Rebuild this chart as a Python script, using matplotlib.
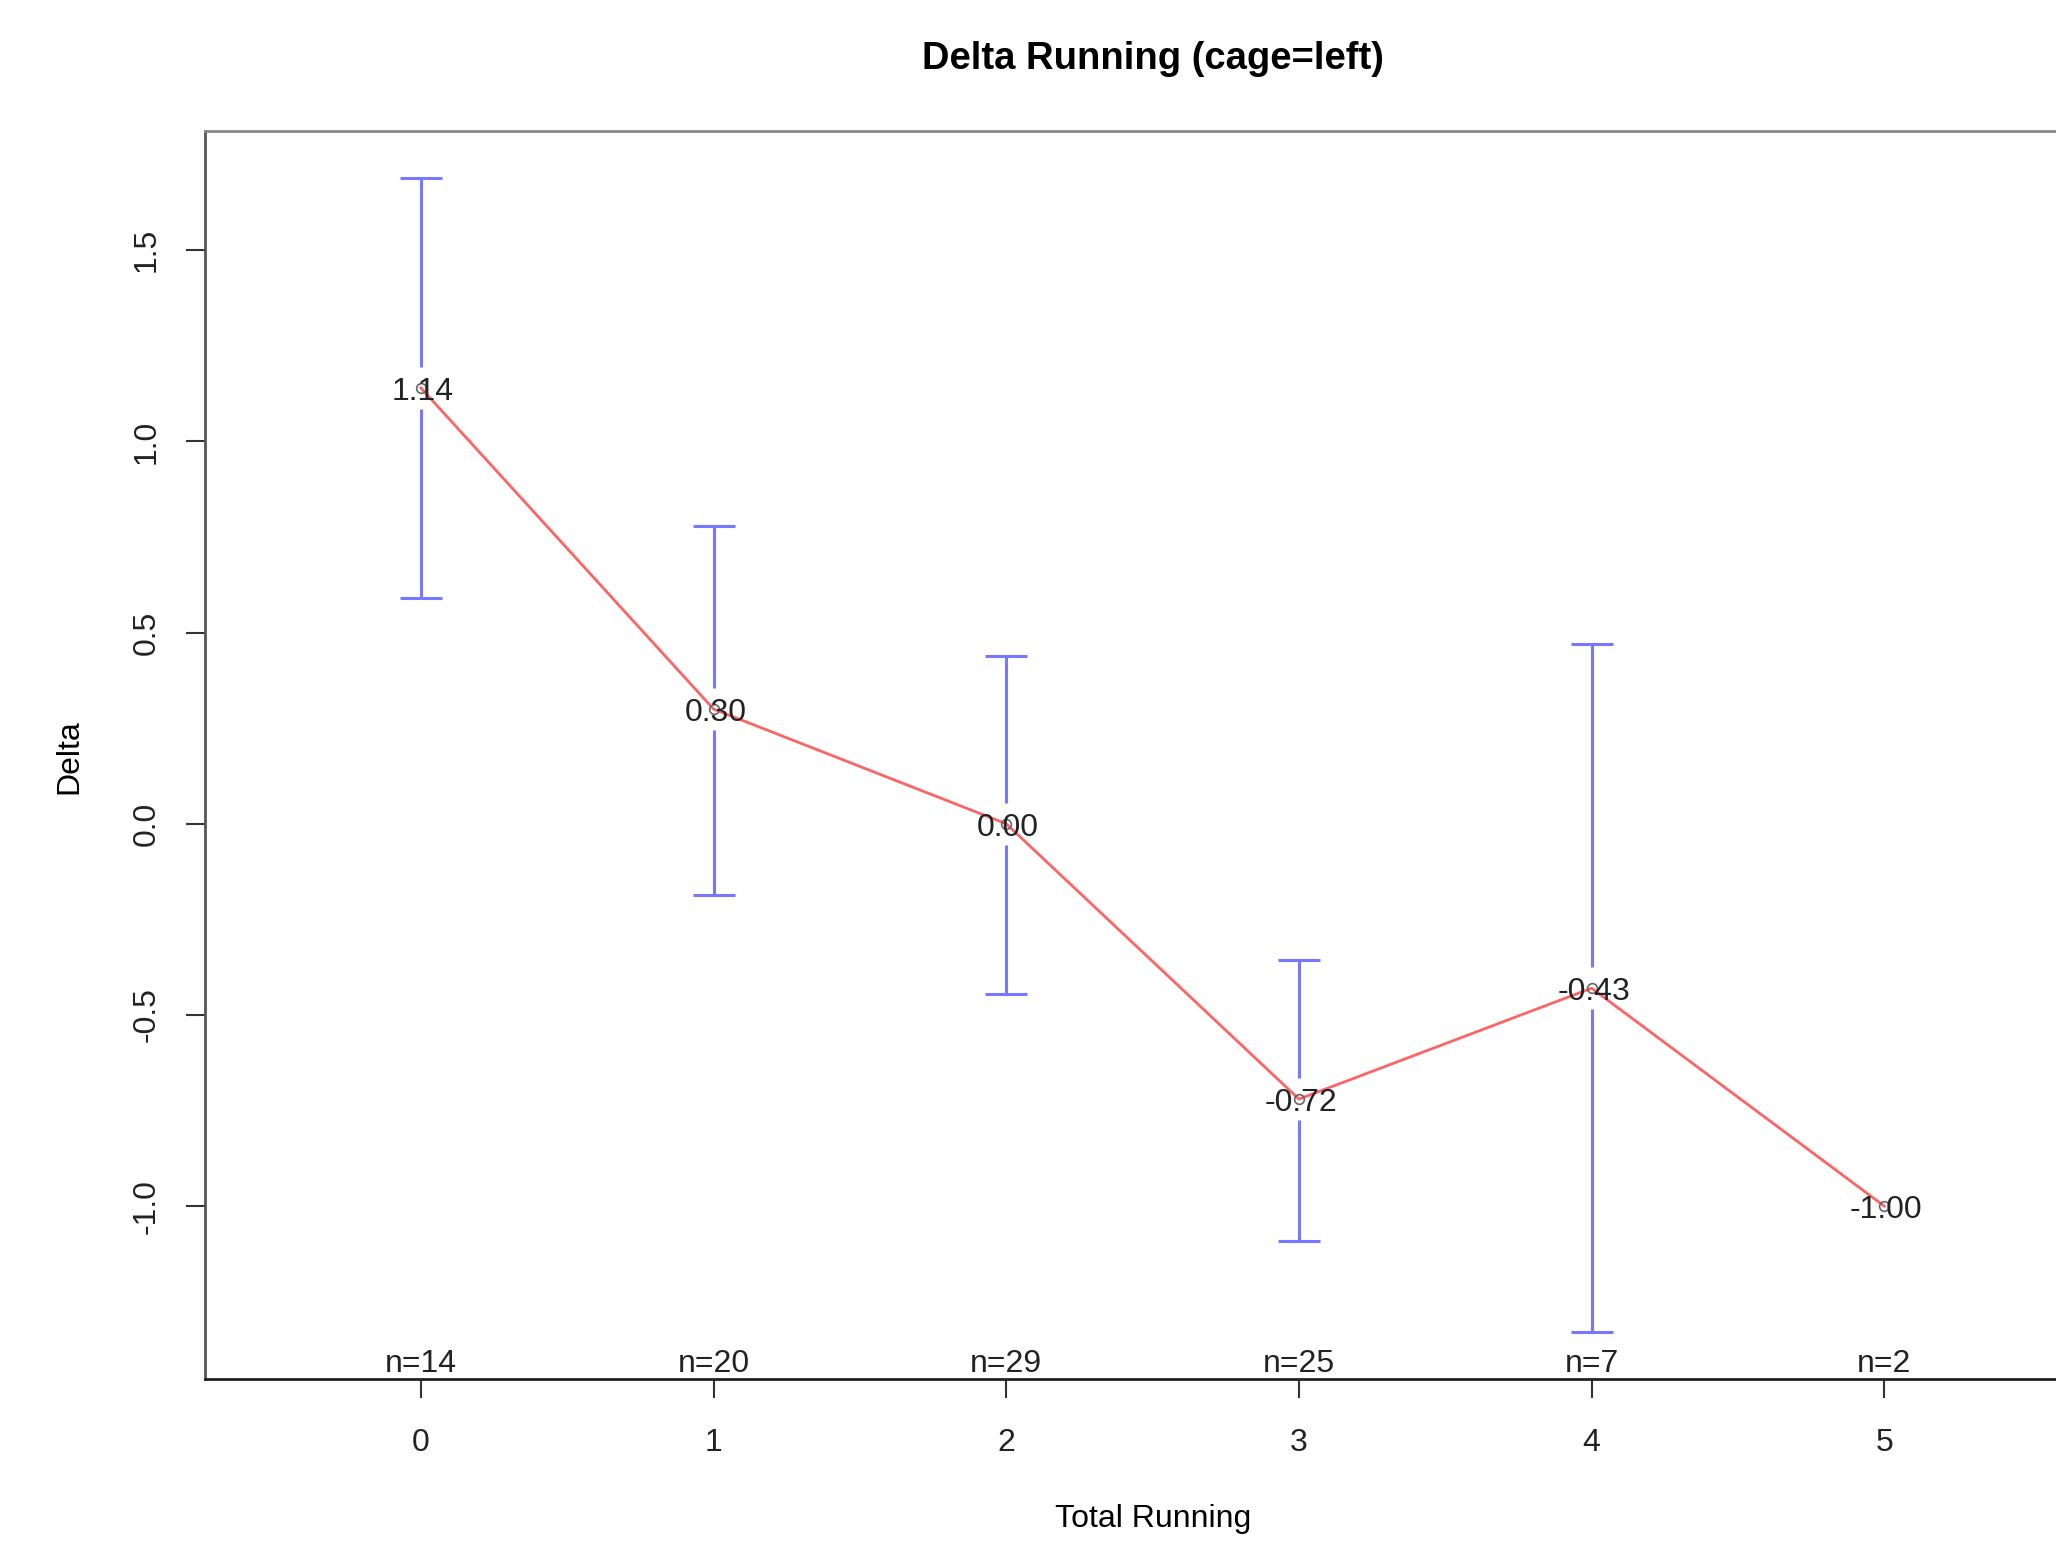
import numpy as np
import matplotlib
matplotlib.use("Agg")
import matplotlib.pyplot as plt
from matplotlib.transforms import offset_copy

plt.rcParams['font.family'] = ['Liberation Sans', 'DejaVu Sans']

# datos
total_running = [0, 1, 2, 3, 4, 5]
means = [1.14, 0.30, 0.00, -0.72, -0.43, -1.00]
upper = [1.69, 0.78, 0.44, -0.355, 0.47, np.nan]
lower = [0.59, -0.185, -0.445, -1.09, -1.33, np.nan]
n_obs = [14, 20, 29, 25, 7, 2]

gap = 0.055  # hueco de la barra alrededor de la etiqueta
fs = 23

fig = plt.figure(figsize=(20.56, 15.43), dpi=100)
ax = fig.add_axes([0.0995, 0.1063, 0.9222, 0.8088])

# barras de error con hueco
for x, m, hi, lo in zip(total_running, means, upper, lower):
    if np.isnan(hi):
        continue
    ax.vlines(x, m + gap, hi, color="#7777ff", lw=2.2)
    ax.vlines(x, lo, m - gap, color="#7777ff", lw=2.2)
    ax.plot([x, x], [hi, lo], ls="none", marker="_", ms=30, mew=2.2, color="#7777ff")

ax.plot(total_running, means, color="#ff6464", lw=2)
ax.plot(total_running, means, ls="none", marker="o", ms=7, mfc="none", mec="#666666", mew=1.2)

# etiquetas de medias, un poco bajo el punto como en R
lab_tr = offset_copy(ax.transData, fig=fig, x=2, y=-4, units="dots")
for x, m in zip(total_running, means):
    ax.text(x, m, f"{m:.2f}", ha="center", va="center", fontsize=fs, color="#222222",
            transform=lab_tr)

ymin, ymax = -1.452, 1.812
for x, n in zip(total_running, n_obs):
    ax.text(x, ymin + 0.017, f"n={n}", ha="center", va="baseline", fontsize=fs, color="#222222")

ax.set_xlim(-0.739, 5.739)
ax.set_ylim(ymin, ymax)
ax.set_xticks(total_running)
ax.set_yticks([-1.0, -0.5, 0.0, 0.5, 1.0, 1.5])
ax.set_yticklabels(["-1.0", "-0.5", "0.0", "0.5", "1.0", "1.5"], rotation=90, va="center")
ax.tick_params(length=14, width=1.5, labelsize=fs, colors="#333333", labelcolor="#222222")
ax.tick_params(axis="x", pad=21)
ax.tick_params(axis="y", pad=17)

ax.spines["left"].set_color("#555555")
ax.spines["bottom"].set_color("#222222")
ax.spines["top"].set_color("#888888")
for s in ax.spines.values():
    s.set_linewidth(2)

fig.text(1153 / 2056, 1 - 59 / 1543, "Delta Running (cage=left)", ha="center", va="center",
         fontsize=27.5, fontweight="bold")
fig.text(1153 / 2056, 1 - 1519 / 1543, "Total Running", ha="center", va="center", fontsize=fs)
fig.text(69.5 / 2056, 1 - 757 / 1543, "Delta", ha="center", va="center", fontsize=fs, rotation=90)

fig.savefig("out.png", dpi=100)
